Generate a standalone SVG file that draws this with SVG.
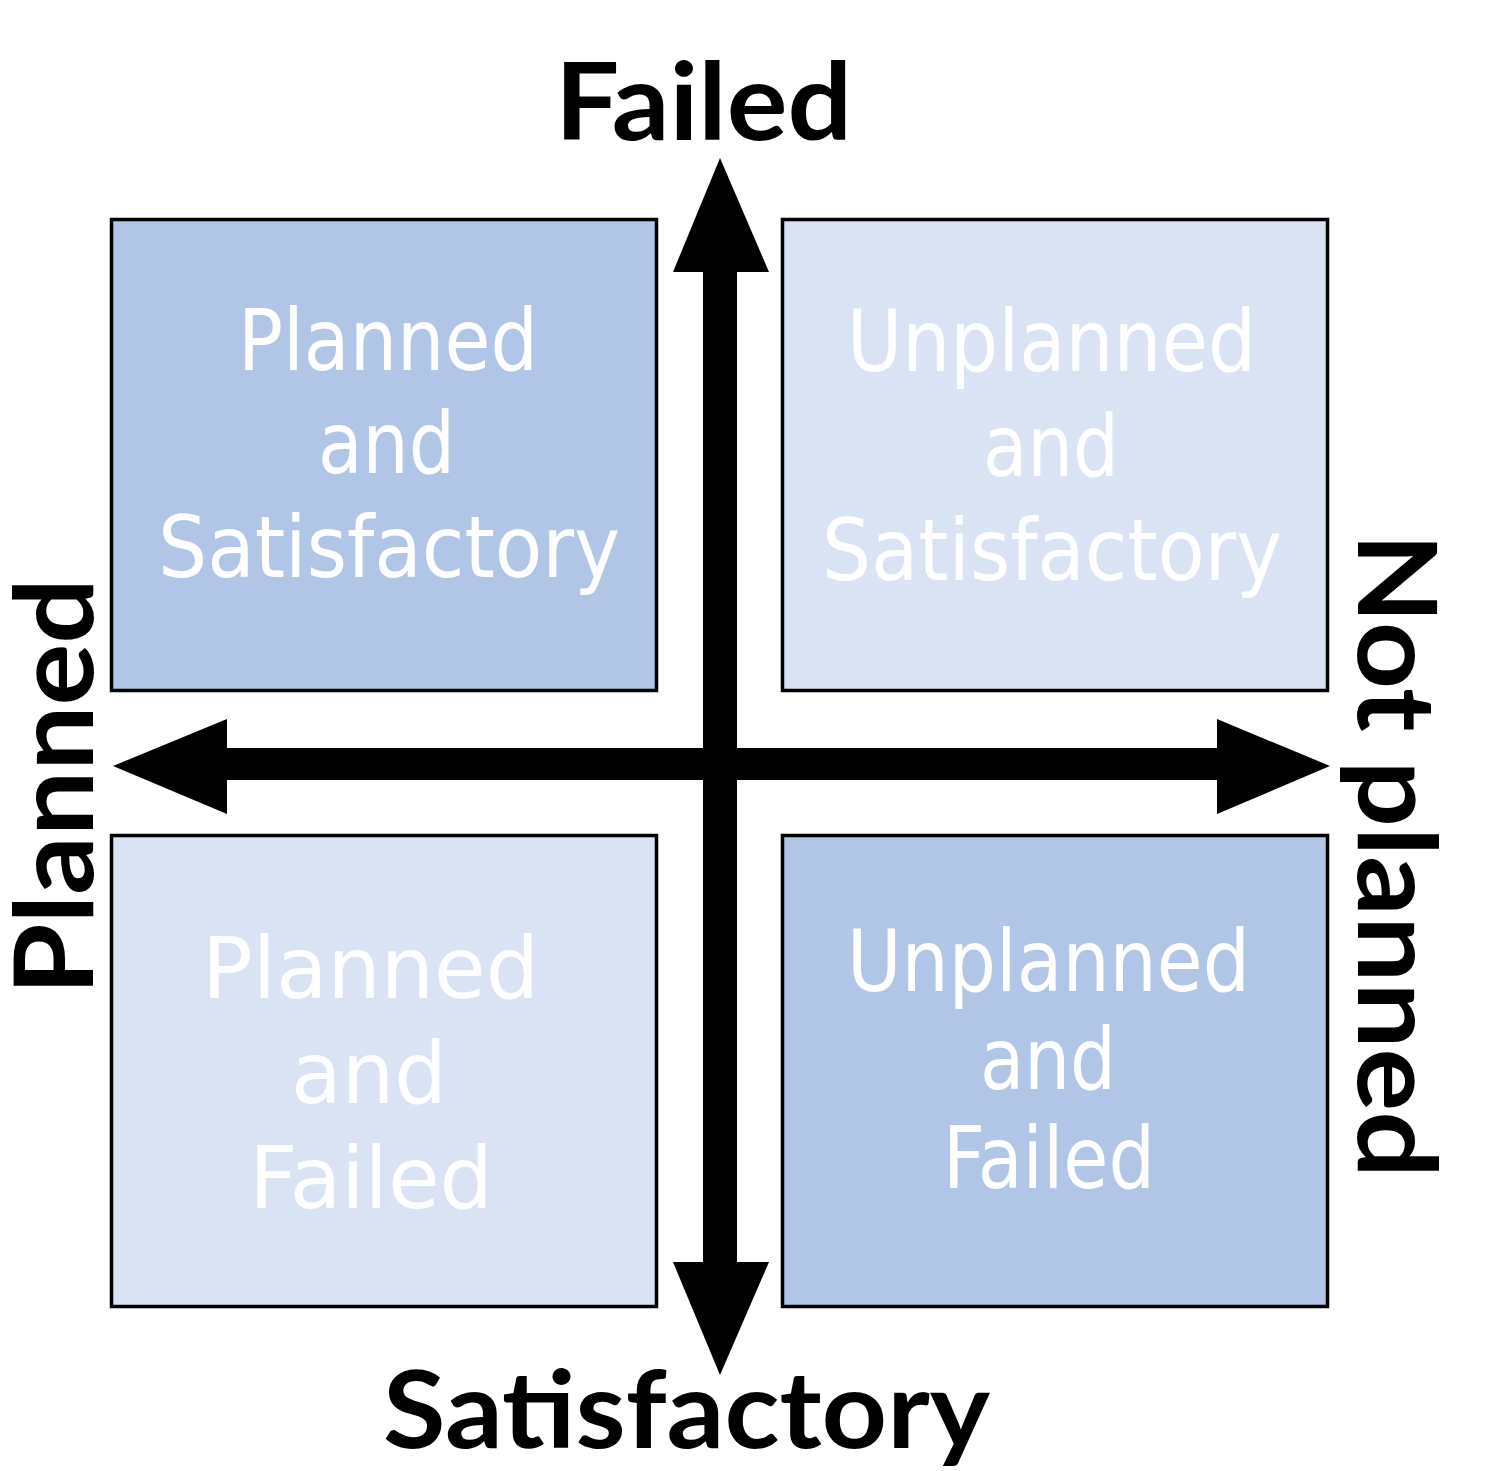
<svg xmlns="http://www.w3.org/2000/svg" width="1508" height="1471" viewBox="0 0 1508 1471">
<style>
.box{stroke:#000;stroke-width:3.5}
.dark{fill:#B1C6E7}
.light{fill:#D9E3F4}
.in{font-family:"DejaVu Sans Condensed","DejaVu Sans","Liberation Sans",sans-serif;font-size:85px;fill:#FFFFFF}
.inw{font-family:"DejaVu Sans","Liberation Sans",sans-serif;font-size:86px;fill:#FFFFFF}
.lbl{font-family:Lato,"Open Sans","Liberation Sans",sans-serif;font-weight:bold;fill:#000}
</style>
<rect width="1508" height="1471" fill="#FFFFFF"/>
<g id="q-planned-satisfactory">
<rect class="box dark" x="111.5" y="219.5" width="545" height="471"/>
<text class="in" x="238" y="370" textLength="300" lengthAdjust="spacingAndGlyphs">Planned</text>
<text class="in" x="318" y="473" textLength="137" lengthAdjust="spacingAndGlyphs">and</text>
<text class="in" x="158" y="577" textLength="462" lengthAdjust="spacingAndGlyphs">Satisfactory</text>
</g>
<g id="q-unplanned-satisfactory">
<rect class="box light" x="782.5" y="219.5" width="545" height="471"/>
<text class="in" x="847" y="371" textLength="409" lengthAdjust="spacingAndGlyphs">Unplanned</text>
<text class="in" x="983" y="476" textLength="136" lengthAdjust="spacingAndGlyphs">and</text>
<text class="in" x="822" y="580" textLength="460" lengthAdjust="spacingAndGlyphs">Satisfactory</text>
</g>
<g id="q-planned-failed">
<rect class="box light" x="111.5" y="835.5" width="545" height="471"/>
<text class="inw" x="202" y="998" textLength="337" lengthAdjust="spacingAndGlyphs">Planned</text>
<text class="inw" x="291" y="1103" textLength="156" lengthAdjust="spacingAndGlyphs">and</text>
<text class="inw" x="249" y="1208" textLength="244" lengthAdjust="spacingAndGlyphs">Failed</text>
</g>
<g id="q-unplanned-failed">
<rect class="box dark" x="782.5" y="835.5" width="545" height="471"/>
<text class="in" x="847" y="991" textLength="403" lengthAdjust="spacingAndGlyphs">Unplanned</text>
<text class="in" x="980" y="1089" textLength="136" lengthAdjust="spacingAndGlyphs">and</text>
<text class="in" x="943" y="1188" textLength="212" lengthAdjust="spacingAndGlyphs">Failed</text>
</g>
<g id="connectors" fill="#000">
<polygon points="720,158 769,272 737,272 737,1262 769,1262 720,1375 673,1262 703,1262 703,272 673,272"/>
<polygon points="113,766 227,719 227,748 1217,748 1217,719 1330,766 1217,814 1217,780 227,780 227,814"/>
</g>
<g id="label-failed">
<text class="lbl" x="555" y="140" font-size="108" textLength="297" lengthAdjust="spacingAndGlyphs">Failed</text>
</g>
<g id="label-satisfactory">
<text class="lbl" x="383" y="1448" font-size="108" textLength="607" lengthAdjust="spacingAndGlyphs">Satisfactory</text>
</g>
<g id="label-planned">
<text class="lbl" transform="translate(93,995) rotate(-90)" x="0" y="0" font-size="110" textLength="417" lengthAdjust="spacingAndGlyphs">Planned</text>
</g>
<g id="label-not-planned">
<text class="lbl" transform="translate(1358,533) rotate(90)" x="0" y="0" font-size="110" textLength="645" lengthAdjust="spacingAndGlyphs">Not planned</text>
</g>
</svg>
